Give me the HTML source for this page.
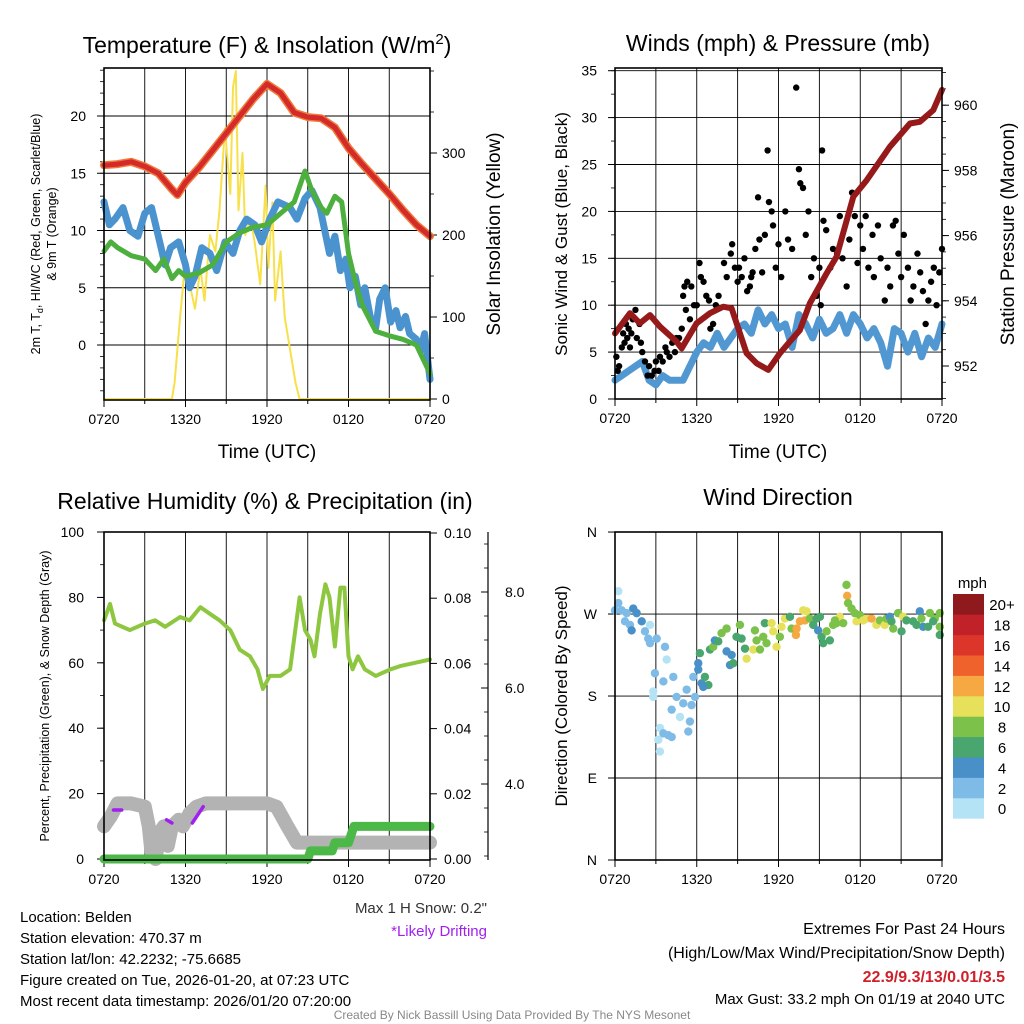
<!DOCTYPE html>
<html><head><meta charset="utf-8">
<style>
html,body{margin:0;padding:0;background:#fff;}
svg{display:block;font-family:"Liberation Sans",Arial,sans-serif;}
</style></head>
<body>
<svg id="chart" width="1024" height="1024" viewBox="0 0 1024 1024" xmlns="http://www.w3.org/2000/svg">
<rect x="0" y="0" width="1024" height="1024" fill="#fff"/>
<text x="267" y="53" font-size="23" text-anchor="middle">Temperature (F) &amp; Insolation (W/m<tspan dy="-9" font-size="15">2</tspan><tspan dy="9">)</tspan></text>
<text x="778" y="51" font-size="23" text-anchor="middle">Winds (mph) &amp; Pressure (mb)</text>
<text x="265" y="509" font-size="23" text-anchor="middle">Relative Humidity (%) &amp; Precipitation (in)</text>
<text x="778" y="505" font-size="23" text-anchor="middle">Wind Direction</text>
<text x="267" y="458" font-size="19" text-anchor="middle">Time (UTC)</text>
<text x="778" y="458" font-size="19" text-anchor="middle">Time (UTC)</text>
<text transform="translate(40,234) rotate(-90)" font-size="12.5" text-anchor="middle">2m T, T<tspan dy="3" font-size="9">d</tspan><tspan dy="-3">, HI/WC (Red, Green, Scarlet/Blue)</tspan></text>
<text transform="translate(56,234) rotate(-90)" font-size="12.5" text-anchor="middle">&amp; 9m T (Orange)</text>
<text transform="translate(500,234) rotate(-90)" font-size="19" text-anchor="middle">Solar Insolation (Yellow)</text>
<text transform="translate(567,234) rotate(-90)" font-size="17" text-anchor="middle">Sonic Wind &amp; Gust (Blue, Black)</text>
<text transform="translate(1014,234) rotate(-90)" font-size="19" text-anchor="middle">Station Pressure (Maroon)</text>
<text transform="translate(49,696) rotate(-90)" font-size="12.5" text-anchor="middle">Percent, Precipitation (Green), &amp; Snow Depth (Gray)</text>
<text transform="translate(567,696) rotate(-90)" font-size="17" text-anchor="middle">Direction (Colored By Speed)</text>
<text x="987" y="588" font-size="15" text-anchor="end">mph</text>
<g font-size="15">
<text x="20" y="922">Location: Belden</text>
<text x="20" y="943">Station elevation: 470.37 m</text>
<text x="20" y="964">Station lat/lon: 42.2232; -75.6685</text>
<text x="20" y="985">Figure created on Tue, 2026-01-20, at 07:23 UTC</text>
<text x="20" y="1006">Most recent data timestamp: 2026/01/20 07:20:00</text>
</g>
<text x="487" y="913" font-size="15" text-anchor="end" fill="#333">Max 1 H Snow: 0.2"</text>
<text x="487" y="936" font-size="15" text-anchor="end" fill="#a020f0">*Likely Drifting</text>
<text x="1005" y="934" font-size="16" text-anchor="end">Extremes For Past 24 Hours</text>
<text x="1005" y="958" font-size="16" text-anchor="end">(High/Low/Max Wind/Precipitation/Snow Depth)</text>
<text x="1005" y="982" font-size="16" font-weight="bold" fill="#d0202a" text-anchor="end">22.9/9.3/13/0.01/3.5</text>
<text x="1005" y="1004" font-size="15" text-anchor="end">Max Gust: 33.2 mph On 01/19 at 2040 UTC</text>
<text x="512" y="1019" font-size="12" fill="#888" text-anchor="middle">Created By Nick Bassill Using Data Provided By The NYS Mesonet</text>
<g id="marks"></g>
</svg>
<script>
// ---------- data ----------
const xTickLabels = ["0720","1320","1920","0120","0720"];
const tempTickLabels = [0,5,10,15,20];
const solarTickLabels = [0,100,200,300];
const windTickLabels = [0,5,10,15,20,25,30,35];
const presTickLabels = [952,954,956,958,960];
const rhTickLabels = [0,20,40,60,80,100];
const precipTickLabels = [0.00,0.02,0.04,0.06,0.08,0.10];
const snowTickLabels = [4.0,6.0,8.0];
const dirTickLabels = ["N","E","S","W","N"];
const cbarLabels = ["0","2","4","6","8","10","12","14","16","18","20+"];
const cbarColors = ["#b5e3f6","#7ebbe6","#4a90c8","#4aa66f","#7cc24a","#e6e05a","#f6a842","#ef622b","#dc3529","#c1222a","#8e1a1e"];

const tempT = [0,1,2,3,4,5,5.4,6,7,8,9,10,11,12,13,14,15,16,17,18,19,20,21,22,23,24];
const tempV = [15.7,15.8,16,15.6,15,13.6,13.1,14.2,15.5,17,18.5,20,21.5,22.8,22,20.3,19.9,19.8,19,17.2,15.8,14.5,13.2,11.8,10.5,9.5];
const dewT = [0,0.5,1,2,3,3.8,4.4,5,5.5,6,7,8,9,10,11,12,13,14,14.8,15.3,16,16.4,17,17.5,18,18.5,19,20,21,22,23,24];
const dewV = [8.2,9,8.5,7.8,7.5,6.5,7.5,5.8,6.5,6,6.3,7,9,9.8,10.3,10.5,11.5,12.5,15.2,13.5,12,11.5,13,12.5,8,5.5,3.5,1.2,0.8,0.5,0,-2.5];
const wcT = [0,0.4,0.8,1.4,1.9,2.5,3.0,3.5,4.1,4.5,4.9,5.5,6.0,6.3,6.7,7.2,7.8,8.3,8.9,9.5,10,10.5,11.1,11.6,12.2,12.8,13.7,14.2,14.8,15.3,15.9,16.6,17,17.4,17.8,18.1,18.5,18.9,19.2,19.6,20,20.3,20.7,21.1,21.5,21.8,22.2,22.5,23,23.3,23.6,24];
const wcV = [12.5,10.5,11,12,10,9.5,11.5,12,9,7,8.5,9,7,5,6,8.5,8,6.5,9,8,10,11,10.5,9,11,12.5,12,11,12.8,13.5,12,8,9.5,6.5,7.5,5,6,3.5,5,2.5,1.5,4,5,2,3,1.5,2.5,1,0.5,-0.5,1,-3];
const solarT = [0,5.0,5.2,5.6,6.0,6.3,6.7,7.1,7.4,7.8,8.2,8.5,8.9,9.3,9.5,9.7,9.9,10.2,10.4,10.8,11.1,11.5,11.9,12.1,12.4,12.6,13.0,13.3,13.7,14.1,14.4,24];
const solarV = [0,0,20,100,170,140,110,160,120,200,180,230,330,250,380,400,230,300,200,220,190,140,260,160,240,120,180,100,60,20,0,0];

const presT = [0,1.1,1.83,2.57,3.3,4.52,4.89,5.99,6.97,7.95,8.56,9.66,10.4,11.25,12.1,12.84,13.57,14.3,15.53,16.26,17.49,18.47,20.18,21.65,22.38,23.36,24];
const presV = [953.0,953.62,953.31,953.56,953.21,952.75,952.54,953.31,953.62,953.82,953.77,952.39,952.08,951.88,952.39,952.75,953.1,953.92,954.84,955.35,957.19,957.7,958.73,959.44,959.49,959.85,960.47];
const sonicT = [0,0.5,1,1.5,2,2.5,3,3.5,4,4.5,5,5.5,6,6.5,7,7.5,8,8.5,9,9.5,10,10.5,11,11.5,12,12.5,13,13.5,14,14.5,15,15.5,16,16.5,17,17.5,18,18.5,19,19.5,20,20.5,21,21.5,22,22.5,23,23.5,24];
const sonicV = [2,2.5,3,3.5,4,2,1.5,2.5,2,2,2,3.5,5,6,5.5,7,5.5,6.5,7.5,8,7,9.5,8,9,7.5,8,5.5,9,8,6.5,8.5,7,7.5,9,7,9,8,6.5,7.5,6,3.5,7.5,7,5,7,4.5,6.5,5.5,8];
const gustT = [0.1,0.2,0.3,0.5,0.6,0.7,0.8,0.9,1.0,1.1,1.2,1.3,1.5,1.6,1.8,1.9,2.0,2.2,2.4,2.5,2.7,2.9,3.0,3.2,3.3,3.5,3.7,3.8,4.0,4.2,4.4,4.5,4.7,4.9,5.0,5.1,5.2,5.3,5.5,5.6,5.8,6.0,6.2,6.3,6.5,6.7,6.9,7.0,7.2,7.4,7.6,8.0,8.2,8.5,8.6,8.8,9.0,9.1,9.3,9.5,9.7,9.9,10.0,10.1,10.3,10.5,10.6,10.8,11.0,11.2,11.3,11.5,11.6,11.8,12.0,12.2,12.5,12.7,13.0,13.3,13.5,13.6,13.8,14.0,14.2,14.4,14.6,14.8,15.0,15.1,15.2,15.3,15.5,15.8,16.0,16.3,16.5,16.7,17.0,17.2,17.4,17.6,17.8,18.0,18.2,18.4,18.6,18.9,19.0,19.3,19.5,19.8,20.0,20.2,20.4,20.6,20.8,21.0,21.2,21.5,21.7,21.9,22.2,22.4,22.6,22.8,23.0,23.2,23.4,23.6,23.8,24];
const gustV = [4.5,3,3.5,5.5,7,6,8,6.5,7.5,5.5,7,8.5,9.5,6.5,8,6,5,4,2.5,3.5,2.5,3,4,3,4.5,4,5.5,5,4.5,6,5,6.5,6.5,7.5,11,12,9.5,12.5,8.5,12,10,10,14.5,13,12.5,11,10.5,7.5,8,10,11,14.5,13,15.5,16.5,14,12.5,14,13,15,11.5,12,13,13.5,16,21.5,17,13.5,17.5,26.5,21,20,18.5,14,16.5,13,20,17,16,33.2,24.5,23,22.5,17.5,20,13,15,11,14,10,26.5,19,18,14,16,15.5,19.5,15,12,17,22,19.5,14.5,18.5,16,19.5,14,17.5,13,18.5,15,10.5,14,12,18.5,19,15.5,13,17.5,14,10.5,12,15.5,13.5,11.5,8,10.5,12.5,14,10,13.5,16];

const rhT = [0,0.44,0.81,1.91,3.0,3.76,4.5,5.6,6.3,7.1,7.8,8.5,9.3,10,10.75,11.3,11.7,12.2,13,13.7,14.4,14.8,15.2,15.5,15.9,16.3,16.6,17,17.4,17.7,18,18.3,18.7,19.2,20,21.1,21.8,22.9,24];
const rhV = [73,78,72,70,72,73,71,74,73,77,75,73,70,64,62,58,52,56,56,58,80,70,67,62,75,84,80,65,83,83,62,58,62,58,56,58,59,60,61];
const snowT = [0,0.5,1,2,3,3.3,3.5,3.8,4.1,4.4,4.7,5,5.5,5.8,6.3,6.8,7.5,12,12.7,13.5,14.2,15,18,24];
const snowV = [10,13,17,17,16,10,2,0,8,10,4,10,12,10,14,16,17,17,16,10,5,5,5,5];
const precipT = [0,15.0,15.2,16.8,17.0,17.6,18.0,18.4,24];
const precipV = [0,0,0.0025,0.0025,0.005,0.005,0.005,0.01,0.01];
const driftT = [0.7,1.3,4.6,5.0,6.5,7.3];
const driftV = [15,15,12,11,11,16];

const dirT = [0.24,0,0.24,0.49,0.86,1.34,1.59,0.73,1.10,1.22,1.96,2.20,2.57,2.44,3.06,2.57,3.67,3.79,2.93,2.81,2.81,3.55,4.28,4.52,5.01,4.16,4.77,5.50,5.38,3.30,3.18,3.55,3.91,4.16,3.30,5.26,5.75,5.62,5.87,6.11,6.11,6.36,6.60,6.85,6.48,6.23,6.97,7.21,7.33,7.58,7.82,8.19,8.19,8.56,8.44,8.68,8.92,9.17,9.29,9.54,9.66,10.15,10.39,10.27,10.64,10.88,11.00,11.12,11.49,11.61,11.86,12.10,12.22,12.47,12.84,12.96,13.33,13.28,13.57,13.94,14.06,14.30,14.55,14.79,15.04,14.91,15.16,15.28,15.53,15.77,16.01,16.26,16.50,16.75,16.99,17.04,17.11,17.36,17.60,17.73,17.97,18.46,18.83,19.19,19.44,19.80,19.93,20.17,20.42,20.78,21.03,21.15,21.39,21.88,22.37,22.49,22.62,22.98,23.11,23.47,23.84,23.84,23.84,23.35,22.13,20.29,18.22,16.14,13.81];
const dirV = [295,274,282,274,271,276,271,262,258,252,262,251,258,243,243,238,234,220,205,185,179,196,201,179,172,165,157,152,141,145,132,139,137,135,119,187,201,170,179,209,216,194,201,192,190,227,231,234,241,240,249,254,229,225,214,216,245,258,243,232,221,231,241,252,231,245,260,238,260,251,234,245,256,265,267,254,254,247,262,263,273,265,258,265,267,252,245,238,251,241,258,260,267,260,302,290,282,276,271,262,269,265,265,258,263,258,265,267,254,271,251,267,263,262,273,265,256,256,271,265,271,256,247,262,258,262,263,263,274];
const dirSpd = [0,2,2,2,2,4,4,2,2,4,4,2,0,2,2,2,2,0,2,0,0,2,2,2,2,2,0,2,2,0,0,2,2,2,0,2,2,2,2,4,4,4,6,6,4,6,6,8,4,6,8,8,4,4,4,6,6,8,6,6,10,10,8,8,8,8,6,8,10,10,10,8,10,10,6,8,12,12,12,12,10,8,6,6,6,4,6,6,8,6,8,8,10,8,8,12,8,8,8,10,8,10,12,10,8,10,8,4,8,8,6,10,6,6,4,8,4,6,8,8,8,8,6,6,6,6,10,8,10];

// ---------- helpers ----------
const NS = "http://www.w3.org/2000/svg";
const root = document.getElementById('marks');
function mk(tag, attrs, name, parent) {
  const el = document.createElementNS(NS, tag);
  for (const k in attrs) el.setAttribute(k, attrs[k]);
  
  
  (parent || root).appendChild(el);
  return el;
}
function txt(x, y, s, name, opts) {
  const el = mk('text', Object.assign({x: x, y: y, 'font-size': 14}, opts || {}), name);
  el.textContent = s;
  return el;
}
function timeScale(x0, x1) { return t => x0 + t / 24 * (x1 - x0); }
function poly(ts, vs, fx, fy, style, name) {
  const pts = ts.map((t, i) => fx(t).toFixed(1) + ',' + fy(vs[i]).toFixed(1)).join(' ');
  return mk('polyline', Object.assign({points: pts, fill: 'none', 'stroke-linejoin': 'round', 'stroke-linecap': 'round'}, style), name);
}
function frame(x0, x1, y0, y1, name) {
  const g = mk('g', {}, name + '-grid');
  for (let i = 1; i < 8; i++) {
    const x = x0 + i * (x1 - x0) / 8;
    mk('line', {x1: x, x2: x, y1: y0, y2: y1, stroke: '#000', 'stroke-width': 0.9}, 'vertical-gridline', g);
  }
  for (let i = 0; i <= 8; i++) {
    const x = x0 + i * (x1 - x0) / 8;
    mk('line', {x1: x, x2: x, y1: y1, y2: y1 + (i % 2 ? 4 : 7), stroke: '#000', 'stroke-width': 1}, 'x-tick', g);
  }
  xTickLabels.forEach((s, i) => txt(x0 + i * (x1 - x0) / 4, y1 + 24, s, 'x-tick-label', {'text-anchor': 'middle'}));
}
function box(x0, x1, y0, y1, name) {
  mk('rect', {x: x0, y: y0, width: x1 - x0, height: y1 - y0, fill: 'none', stroke: '#000', 'stroke-width': 1.6}, name);
}
function hgrid(x0, x1, ys) { ys.forEach(y => mk('line', {x1: x0, x2: x1, y1: y, y2: y, stroke: '#000', 'stroke-width': 0.9}, 'horizontal-gridline')); }

// ---------- Panel 1 ----------
{
  const X0 = 104, X1 = 430, Y0 = 68, Y1 = 400;
  const fx = timeScale(X0, X1);
  const yl = v => 345 - v * 11.45;
  const yr = v => 399 - v * 0.82;
  frame(X0, X1, Y0, Y1, 'temperature');
  hgrid(X0, X1, tempTickLabels.map(yl));
  tempTickLabels.forEach(v => { txt(X0 - 18, yl(v) + 5, String(v), 'temperature-tick-label', {'text-anchor': 'end'}); mk('line', {x1: X0 - 7, x2: X0, y1: yl(v), y2: yl(v), stroke: '#000'}, 'temperature-tick'); });
  for (let v = -4; v <= 24; v++) mk('line', {x1: X0 - 4, x2: X0, y1: yl(v), y2: yl(v), stroke: '#000', 'stroke-width': 0.8}, 'temperature-minor-tick');
  solarTickLabels.forEach(v => { txt(X1 + 12, yr(v) + 5, String(v), 'solar-tick-label'); mk('line', {x1: X1, x2: X1 + 7, y1: yr(v), y2: yr(v), stroke: '#000'}, 'solar-tick'); });
  for (let v = 0; v <= 400; v += 50) mk('line', {x1: X1, x2: X1 + 4, y1: yr(v), y2: yr(v), stroke: '#000', 'stroke-width': 0.8}, 'solar-minor-tick');
  poly(solarT, solarV, fx, yr, {stroke: '#f8e04a', 'stroke-width': 2}, 'solar-insolation-line');
  poly(wcT, wcV, fx, yl, {stroke: '#4b93cf', 'stroke-width': 7}, 'windchill-line');
  poly(dewT, dewV, fx, yl, {stroke: '#4caf3e', 'stroke-width': 5}, 'dewpoint-line');
  poly(tempT, tempV, fx, yl, {stroke: '#ef7a3a', 'stroke-width': 8}, 'nine-meter-temp-line');
  poly(tempT, tempV, fx, yl, {stroke: '#d42a2a', 'stroke-width': 5}, 'temperature-line');
  box(X0, X1, Y0, Y1, 'temperature-plot-frame');
}
// ---------- Panel 2 ----------
{
  const X0 = 615, X1 = 942, Y0 = 68, Y1 = 399;
  const fx = timeScale(X0, X1);
  const yl = v => 399 - v * 9.38;
  const yr = p => 366 - (p - 952) * 32.6;
  frame(X0, X1, Y0, Y1, 'winds');
  hgrid(X0, X1, windTickLabels.slice(1).map(yl));
  windTickLabels.forEach(v => { txt(X0 - 18, yl(v) + 5, String(v), 'wind-tick-label', {'text-anchor': 'end'}); mk('line', {x1: X0 - 7, x2: X0, y1: yl(v), y2: yl(v), stroke: '#000'}, 'wind-tick'); });
  for (let v = 0; v <= 35; v += 2.5) mk('line', {x1: X0 - 4, x2: X0, y1: yl(v), y2: yl(v), stroke: '#000', 'stroke-width': 0.8}, 'wind-minor-tick');
  presTickLabels.forEach(v => { txt(X1 + 12, yr(v) + 5, String(v), 'pressure-tick-label'); mk('line', {x1: X1, x2: X1 + 7, y1: yr(v), y2: yr(v), stroke: '#000'}, 'pressure-tick'); });
  for (let v = 951; v <= 961; v += 0.5) mk('line', {x1: X1, x2: X1 + 4, y1: yr(v), y2: yr(v), stroke: '#000', 'stroke-width': 0.8}, 'pressure-minor-tick');
  poly(sonicT, sonicV, fx, yl, {stroke: '#5198d2', 'stroke-width': 7}, 'sonic-wind-line');
  const g = mk('g', {}, 'gust-points');
  gustT.forEach((t, i) => mk('circle', {cx: fx(t), cy: yl(gustV[i]), r: 3.2, fill: '#000'}, 'gust-point', g));
  poly(presT, presV, fx, yr, {stroke: '#961a1a', 'stroke-width': 6}, 'pressure-line');
  box(X0, X1, Y0, Y1, 'winds-plot-frame');
}
// ---------- Panel 3 ----------
{
  const X0 = 104, X1 = 430, Y0 = 532, Y1 = 860;
  const fx = timeScale(X0, X1);
  const yl = v => 859 - v * 3.27;
  const yr = v => 859 - v * 3260;
  frame(X0, X1, Y0, Y1, 'humidity');
  rhTickLabels.forEach(v => { txt(X0 - 20, yl(v) + 5, String(v), 'humidity-tick-label', {'text-anchor': 'end'}); mk('line', {x1: X0 - 7, x2: X0, y1: yl(v), y2: yl(v), stroke: '#000'}, 'humidity-tick'); });
  for (let v = 0; v <= 100; v += 10) mk('line', {x1: X0 - 4, x2: X0, y1: yl(v), y2: yl(v), stroke: '#000', 'stroke-width': 0.8}, 'humidity-minor-tick');
  precipTickLabels.forEach(v => { txt(X1 + 14, yr(v) + 5, v.toFixed(2), 'precip-tick-label'); mk('line', {x1: X1, x2: X1 + 7, y1: yr(v), y2: yr(v), stroke: '#000'}, 'precip-tick'); });
  const sx = 488, ys = v => 784 - (v - 4) * 48;
  mk('line', {x1: sx, x2: sx, y1: Y0, y2: Y1, stroke: '#000', 'stroke-width': 1.2}, 'snow-depth-axis');
  snowTickLabels.forEach(v => { txt(sx + 17, ys(v) + 5, v.toFixed(1), 'snow-tick-label'); mk('line', {x1: sx - 7, x2: sx, y1: ys(v), y2: ys(v), stroke: '#000'}, 'snow-tick'); });
  for (let v = 2.5; v <= 9.5; v += 0.5) { const y = ys(v); if (y > Y0 && y < Y1) mk('line', {x1: sx - 4, x2: sx, y1: y, y2: y, stroke: '#000', 'stroke-width': 0.8}, 'snow-minor-tick'); }
  poly(snowT, snowV, fx, yl, {stroke: '#b3b3b3', 'stroke-width': 14}, 'snow-depth-line');
  poly(precipT, precipV, fx, yr, {stroke: '#4cb848', 'stroke-width': 9}, 'precipitation-line');
  for (let i = 0; i < driftT.length; i += 2) poly(driftT.slice(i, i + 2), driftV.slice(i, i + 2), fx, yl, {stroke: '#a020f0', 'stroke-width': 3.5}, 'drifting-segment');
  poly(rhT, rhV, fx, yl, {stroke: '#8dc63f', 'stroke-width': 4}, 'relative-humidity-line');
  box(X0, X1, Y0, Y1, 'humidity-plot-frame');
}
// ---------- Panel 4 ----------
{
  const X0 = 615, X1 = 942, Y0 = 532, Y1 = 860;
  const fx = timeScale(X0, X1);
  const yd = d => 860 - d * 0.911;
  frame(X0, X1, Y0, Y1, 'direction');
  hgrid(X0, X1, [90, 180, 270].map(yd));
  dirTickLabels.forEach((s, i) => { txt(X0 - 18, yd(i * 90) + 5, s, 'direction-tick-label', {'text-anchor': 'end'}); mk('line', {x1: X0 - 7, x2: X0, y1: yd(i * 90), y2: yd(i * 90), stroke: '#000'}, 'direction-tick'); });
  const g = mk('g', {}, 'direction-points');
  dirT.forEach((t, i) => mk('circle', {cx: fx(t), cy: yd(dirV[i]), r: 4.2, fill: cbarColors[Math.min(10, Math.round(dirSpd[i] / 2))]}, 'direction-point', g));
  box(X0, X1, Y0, Y1, 'direction-plot-frame');
  const cx = 953, cw = 31, top = 594, bh = 20.4;
  cbarLabels.forEach((s, i) => {
    const y = top + (10 - i) * bh;
    mk('rect', {x: cx, y: y, width: cw, height: bh + 0.3, fill: cbarColors[i]}, 'colorbar-box');
    txt(1002, y + bh / 2 + 6, s, 'colorbar-label', {'text-anchor': 'middle', 'font-size': 15});
  });
}
</script>
</body></html>
